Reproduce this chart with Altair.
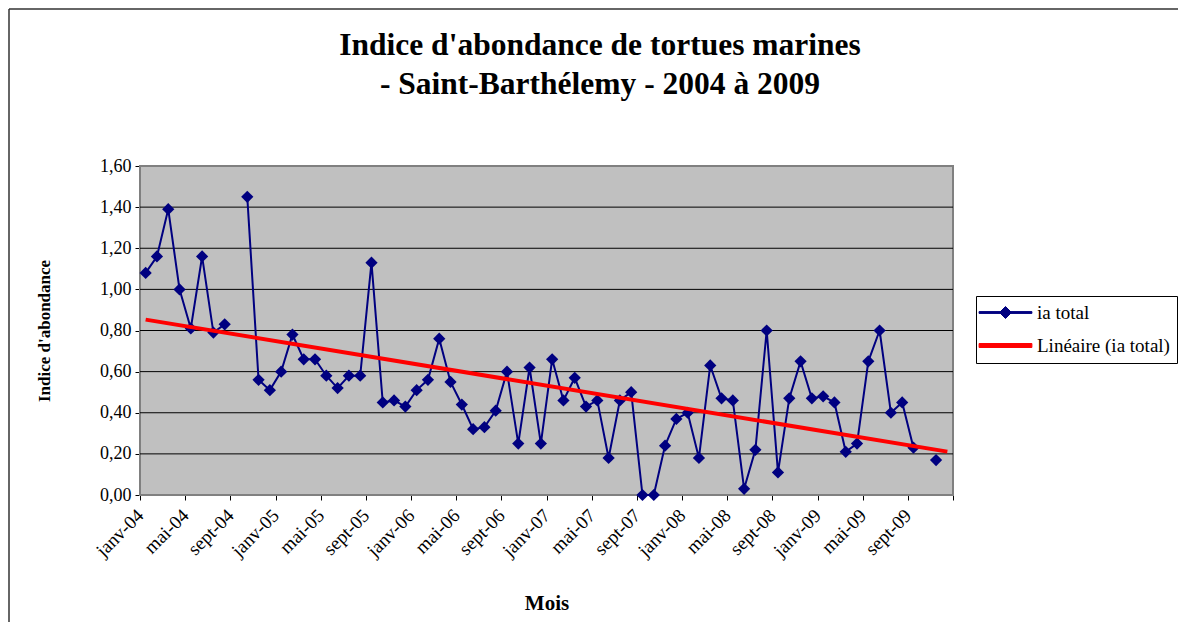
import json
import altair as alt
import pandas as pd

# ---- data ----
months = [
    "janv-04", "févr-04", "mars-04", "avr-04", "mai-04", "juin-04", "juil-04", "août-04", "sept-04", "oct-04", "nov-04", "déc-04",
    "janv-05", "févr-05", "mars-05", "avr-05", "mai-05", "juin-05", "juil-05", "août-05", "sept-05", "oct-05", "nov-05", "déc-05",
    "janv-06", "févr-06", "mars-06", "avr-06", "mai-06", "juin-06", "juil-06", "août-06", "sept-06", "oct-06", "nov-06", "déc-06",
    "janv-07", "févr-07", "mars-07", "avr-07", "mai-07", "juin-07", "juil-07", "août-07", "sept-07", "oct-07", "nov-07", "déc-07",
    "janv-08", "févr-08", "mars-08", "avr-08", "mai-08", "juin-08", "juil-08", "août-08", "sept-08", "oct-08", "nov-08", "déc-08",
    "janv-09", "févr-09", "mars-09", "avr-09", "mai-09", "juin-09", "juil-09", "août-09", "sept-09", "oct-09", "nov-09", "déc-09",
]

ia_total = [
    1.08, 1.16, 1.39, 1.00, 0.81, 1.16, 0.79, 0.83, None, 1.45, 0.56, 0.51,
    0.60, 0.78, 0.66, 0.66, 0.58, 0.52, 0.58, 0.58, 1.13, 0.45, 0.46, 0.43,
    0.51, 0.56, 0.76, 0.55, 0.44, 0.32, 0.33, 0.41, 0.60, 0.25, 0.62, 0.25,
    0.66, 0.46, 0.57, 0.43, 0.46, 0.18, 0.46, 0.50, 0.00, 0.00, 0.24, 0.37,
    0.40, 0.18, 0.63, 0.47, 0.46, 0.03, 0.22, 0.80, 0.11, 0.47, 0.65, 0.47,
    0.48, 0.45, 0.21, 0.25, 0.65, 0.80, 0.40, 0.45, 0.23, None, 0.17, None,
]

tick_labels = months[::4] + [""]
y_ticks = [0, 0.2, 0.4, 0.6, 0.8, 1.0, 1.2, 1.4, 1.6]
series = ["ia total", "Linéaire (ia total)"]
series_colors = ["#000080", "#FF0000"]

title_lines = ["Indice d'abondance de tortues marines", "- Saint-Barthélemy - 2004 à 2009"]

FONT = "Liberation Serif"
NAVY = "#000080"
W, H = 813, 329
PAD = {"left": 132, "top": 158, "right": 226, "bottom": 128}

df = pd.DataFrame({"idx": list(range(len(months))), "mois": months, "ia": ia_total})

x_enc = alt.X(
    "idx:Q",
    scale=alt.Scale(domain=[-0.5, len(months) - 0.5], nice=False, zero=False),
    axis=alt.Axis(
        values=[i - 0.5 for i in range(0, len(months) + 1, 4)],
        labelExpr=json.dumps(tick_labels, ensure_ascii=False) + "[round((datum.value + 0.5) / 4)]",
        labelAngle=315, labelAlign="right", labelBaseline="middle",
        labelFont=FONT, labelFontSize=19, labelColor="black", labelPadding=12,
        labelOverlap=False, labelFlush=False,
        ticks=True, tickSize=5, tickColor="black", tickWidth=1,
        domain=False, grid=False,
        title="Mois", titleFont=FONT, titleFontSize=21, titleFontWeight="bold",
        titleColor="black", titlePadding=32,
    ),
)
y_enc = alt.Y(
    "ia:Q",
    scale=alt.Scale(domain=[0, 1.6], nice=False),
    axis=alt.Axis(
        values=y_ticks,
        labelExpr="replace(format(datum.value, '.2f'), '.', ',')",
        labelFont=FONT, labelFontSize=18, labelColor="black", labelPadding=4,
        ticks=True, tickSize=5, tickColor="black", tickWidth=1,
        grid=False, domain=False,
        title="Indice d'abondance", titleFont=FONT, titleFontSize=17,
        titleFontWeight="bold", titleColor="black", titlePadding=46,
    ),
)

one = pd.DataFrame({"f": [0]})

# outer chart frame: top and left edges, kept just inside the drawing
frame_left = alt.Chart(one).mark_rule(color="#333333", strokeWidth=1.5).encode(
    x=alt.value(-131), y=alt.value(-157), y2=alt.value(H + PAD["bottom"] - 1)
)
frame_top = alt.Chart(one).mark_rule(color="#333333", strokeWidth=1.5).encode(
    x=alt.value(-131), x2=alt.value(W + PAD["right"] - 1), y=alt.value(-157)
)

# plot area background
plot_bg = alt.Chart(one).mark_rect(fill="#C0C0C0", stroke="#808080", strokeWidth=2).encode(
    x=alt.value(0), x2=alt.value(W), y=alt.value(0), y2=alt.value(H)
)

grid = alt.Chart(pd.DataFrame({"ia": y_ticks[1:-1]})).mark_rule(color="black", strokeWidth=1).encode(
    y=alt.Y("ia:Q")
)

base = alt.Chart(df)

line = base.mark_line(color=NAVY, strokeWidth=2, invalid="break-paths-show-domains").encode(x=x_enc, y=y_enc)

points = base.mark_point(shape="diamond", filled=True, color=NAVY, size=150, opacity=1).encode(
    x=alt.X("idx:Q"), y=alt.Y("ia:Q")
)

trend = base.transform_filter("isValid(datum.ia)").transform_regression(
    "idx", "ia", method="linear", extent=[0, len(months) - 1]
).mark_line(color="#FF0000", strokeWidth=4).encode(x=alt.X("idx:Q"), y=alt.Y("ia:Q"))

path_ia = "M-4.4,-0.15L4.4,-0.15L4.4,0.15L-4.4,0.15ZM0,-1L1,0L0,1L-1,0Z"
path_lin = "M-4.4,-0.33L4.4,-0.33L4.4,0.33L-4.4,0.33Z"

leg = alt.Legend(title=None)
legend_layer = base.transform_filter("false").transform_calculate(serie="'ia total'").mark_point(
    filled=True, opacity=1
).encode(
    shape=alt.Shape("serie:N", scale=alt.Scale(domain=series, range=[path_ia, path_lin]), legend=leg),
    fill=alt.Fill("serie:N", scale=alt.Scale(domain=series, range=series_colors), legend=leg),
    stroke=alt.Stroke("serie:N", scale=alt.Scale(domain=series, range=series_colors), legend=leg),
)

title1 = alt.Chart(pd.DataFrame({"t": [title_lines[0]]})).mark_text(
    font=FONT, fontSize=31.5, fontWeight="bold", color="black", align="center", baseline="alphabetic"
).encode(text="t:N", x=alt.value(460), y=alt.value(-111))
title2 = alt.Chart(pd.DataFrame({"t": [title_lines[1]]})).mark_text(
    font=FONT, fontSize=31.5, fontWeight="bold", color="black", align="center", baseline="alphabetic"
).encode(text="t:N", x=alt.value(460), y=alt.value(-72))

chart = alt.layer(
    frame_left, frame_top, plot_bg, grid, line, points, trend, legend_layer, title1, title2
).properties(
    width=W,
    height=H,
    padding=PAD,
    autosize=alt.AutoSizeParams(type="none"),
    background="white",
).configure(
    font=FONT
).configure_view(
    strokeWidth=0
).configure_legend(
    orient="none", legendX=836, legendY=130,
    labelFont=FONT, labelFontSize=19, labelColor="black",
    symbolSize=144, symbolStrokeWidth=1, symbolOffset=13, labelOffset=22,
    rowPadding=13, padding=7, strokeColor="black", fillColor="white",
    cornerRadius=0, symbolOpacity=1,
)

chart.save("out.html", embed_options={"renderer": "svg", "actions": False})
